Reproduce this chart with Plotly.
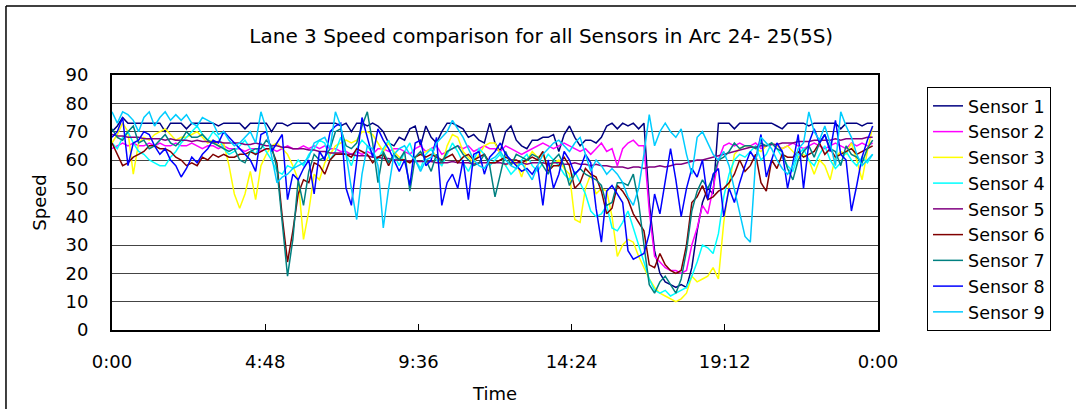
import plotly.graph_objects as go

# Time axis: one reading every 10 minutes over 24 hours (minutes since midnight)
minutes = list(range(0, 1440, 10))
tick_minutes = [0, 288, 576, 864, 1152, 1440]
tick_labels = ["0:00", "4:48", "9:36", "14:24", "19:12", "0:00"]

sensor_names = ["Sensor 1", "Sensor 2", "Sensor 3", "Sensor 4", "Sensor 5",
                "Sensor 6", "Sensor 7", "Sensor 8", "Sensor 9"]
sensor_colors = ["#000080", "#FF00FF", "#FFFF00", "#00FFFF", "#800080",
                 "#800000", "#008080", "#0000FF", "#00CCFF"]

sensor_1 = [70, 72, 75, 73, 73, 73, 73, 73, 73, 73, 70, 73,
            73, 73, 71, 73, 73, 73, 73, 73, 72, 73, 73, 73,
            73, 71, 73, 73, 73, 73, 70, 73, 73, 72, 73, 73,
            73, 73, 71, 73, 73, 73, 73, 72, 73, 70, 73, 73,
            72, 73, 72, 70, 66, 65, 68, 67, 71, 72, 65, 72,
            68, 66, 70, 73, 73, 72, 71, 68, 69, 67, 66, 73,
            66, 63, 70, 72, 67, 65, 64, 67, 67, 68, 68, 69,
            63, 69, 72, 68, 65, 67, 67, 66, 68, 72, 73, 71,
            73, 72, 73, 71, 73, 45, 28, 20, 17, 16, 15, 16,
            15, 22, 35, 45, 50, 48, 73, 73, 73, 71, 73, 73,
            73, 73, 73, 73, 73, 72, 71, 73, 73, 73, 73, 72,
            73, 73, 73, 73, 73, 71, 73, 73, 73, 72, 73, 73]

sensor_2 = [64, 65, 66, 65, 66, 65, 65, 66, 65, 66, 65, 65,
            66, 65, 65, 66, 65, 64, 65, 65, 64, 65, 64, 64,
            64, 63, 64, 64, 63, 64, 64, 63, 64, 65, 64, 64,
            65, 64, 65, 64, 65, 64, 64, 63, 63, 62, 63, 62,
            63, 62, 64, 64, 63, 64, 64, 63, 62, 64, 65, 63,
            64, 65, 62, 63, 64, 65, 64, 65, 63, 64, 65, 64,
            64, 63, 65, 64, 63, 62, 63, 64, 65, 66, 65, 64,
            65, 66, 65, 64, 63, 64, 62, 64, 66, 63, 64, 58,
            64, 66, 67, 65, 65, 42, 26, 24, 22, 21, 21, 20,
            21, 30, 36, 44, 41, 50, 60, 65, 66, 65, 66, 65,
            65, 66, 64, 65, 66, 65, 64, 65, 66, 65, 64, 65,
            66, 65, 64, 65, 66, 65, 64, 66, 65, 66, 65, 66]

sensor_3 = [66, 69, 73, 70, 55, 66, 68, 67, 69, 70, 71, 69,
            67, 68, 68, 69, 70, 68, 66, 67, 65, 66, 58, 48,
            43, 48, 56, 46, 58, 62, 65, 66, 64, 62, 58, 53,
            32, 42, 55, 53, 59, 62, 65, 66, 67, 66, 67, 70,
            70, 69, 66, 63, 66, 63, 61, 60, 59, 61, 62, 63,
            64, 61, 58, 65, 69, 68, 63, 61, 59, 62, 65, 66,
            66, 62, 58, 60, 59, 54, 60, 63, 61, 62, 57, 59,
            60, 57, 55, 39, 38, 50, 55, 48, 50, 49, 40, 26,
            30, 32, 31, 26, 22, 18, 15, 13, 12, 11, 10, 11,
            13, 19, 17, 18, 19, 22, 18, 38, 51, 62, 64, 65,
            65, 64, 63, 65, 66, 65, 64, 65, 63, 61, 62, 60,
            55, 60, 58, 53, 61, 63, 62, 66, 60, 53, 63, 72]

sensor_4 = [66, 64, 68, 70, 66, 63, 62, 60, 59, 58, 58, 61,
            63, 66, 68, 70, 72, 69, 67, 70, 68, 64, 62, 63,
            65, 67, 64, 62, 66, 63, 60, 56, 55, 58, 57, 60,
            58, 62, 64, 67, 66, 60, 63, 68, 62, 58, 64, 67,
            65, 62, 60, 64, 67, 62, 58, 63, 66, 60, 57, 62,
            64, 60, 58, 62, 66, 63, 59, 56, 60, 64, 62, 58,
            60, 62, 58, 55, 57, 60, 62, 58, 56, 59, 62, 60,
            58, 55, 53, 56, 52, 48, 42, 40, 41, 44, 36, 35,
            38, 42, 36, 30, 24, 18, 14, 13, 14, 12, 13, 14,
            15, 19, 24, 30, 29, 27, 34, 47, 55, 60, 62, 61,
            63, 65, 60, 62, 66, 64, 61, 58, 56, 62, 64, 60,
            58, 62, 65, 60, 57, 59, 63, 60, 58, 61, 59, 62]

sensor_5 = [69, 68.5, 68.5, 68, 68, 68, 67.5, 67.5, 67.5, 67.5, 67, 67.5,
            67, 67, 67, 66.5, 67, 66.5, 66.5, 66, 66.5, 66, 66, 66,
            66, 65.5, 65.5, 66, 65.5, 65, 65, 65, 64.5, 64.5, 64, 64,
            64, 63.5, 63.5, 63, 63, 62.5, 62.5, 62.5, 62, 62, 61.5, 61.5,
            61.5, 61, 61, 60.5, 60.5, 60, 60, 60, 59.5, 59.5, 59.5, 59.5,
            59.5, 59, 59, 59, 59.5, 59, 59, 59, 58.5, 59, 59, 59,
            59, 59, 58.5, 59, 59, 59, 58.5, 59, 59, 59, 58.5, 59,
            59, 58.5, 58.5, 59, 58.5, 58.5, 58, 58.5, 58, 58, 57.5, 57.5,
            57.5, 57, 57.5, 57.5, 57, 57.5, 57.5, 58, 57.5, 58, 58.5, 58.5,
            59, 59.5, 60, 60, 60.5, 61, 61.5, 62, 62.5, 63, 63.5, 64,
            64.5, 64.5, 65, 65, 65.5, 65.5, 66, 66, 66, 66.5, 66.5, 66.5,
            67, 67, 67, 67, 67.5, 67, 67.5, 67.5, 67.5, 67.5, 68, 68]

sensor_6 = [66, 62, 58, 59, 61, 62, 63, 65, 65, 64, 64, 63,
            61, 60, 58, 59, 58, 61, 60, 62, 61, 62, 61, 61,
            62, 62, 63, 62, 63, 64, 64, 59, 40, 24, 35, 48,
            53, 52, 59, 58, 55, 60, 62, 62, 62, 61, 64, 63,
            62, 59, 61, 62, 58, 62, 60, 60, 59, 61, 62, 61,
            62, 61, 60, 61, 62, 59, 61, 62, 60, 61, 62, 59,
            59, 60, 61, 60, 60, 59, 60, 61, 60, 63, 56, 58,
            58, 61, 58, 50, 52, 57, 55, 54, 49, 41, 43, 51,
            49, 46, 41, 38, 35, 23, 22, 27, 23, 21, 20, 21,
            30, 45, 47, 51, 46, 47, 49, 50, 52, 55, 60, 56,
            58, 62, 52, 49, 60, 57, 62, 61, 61, 63, 61, 62,
            63, 66, 62, 64, 61, 62, 63, 64, 62, 63, 64, 65]

sensor_7 = [71, 68, 67, 70, 72, 66, 67, 64, 65, 67, 69, 66,
            65, 67, 70, 68, 68, 69, 67, 66, 65, 64, 63, 64,
            60, 59, 63, 64, 64, 67, 65, 57, 38, 19, 32, 53,
            44, 56, 62, 60, 61, 64, 70, 71, 65, 64, 66, 72,
            77, 66, 52, 63, 59, 62, 60, 63, 49, 61, 63, 60,
            56, 62, 59, 63, 64, 65, 62, 60, 58, 59, 62, 58,
            47, 55, 63, 58, 62, 61, 60, 62, 61, 58, 55, 60,
            62, 58, 51, 55, 57, 55, 54, 53, 51, 44, 45, 52,
            52, 51, 55, 45, 30, 16, 13, 17, 19, 16, 13, 18,
            28, 42, 49, 53, 50, 54, 60, 61, 63, 66, 64, 65,
            65, 64, 66, 65, 66, 64, 63, 57, 53, 60, 63, 65,
            61, 66, 69, 64, 63, 58, 65, 62, 61, 59, 64, 67]

sensor_8 = [68, 70, 75, 58, 66, 67, 70, 69, 65, 62, 64, 60,
            58, 54, 57, 61, 59, 62, 64, 67, 66, 70, 68, 66,
            64, 62, 60, 56, 69, 70, 63, 66, 69, 46, 55, 53,
            57, 60, 48, 63, 60, 70, 72, 73, 50, 44, 60, 75,
            68, 61, 71, 67, 64, 60, 56, 60, 51, 66, 67, 58,
            60, 68, 44, 52, 55, 50, 60, 46, 62, 63, 55, 61,
            63, 66, 62, 60, 58, 56, 57, 55, 58, 44, 60, 50,
            55, 63, 60, 55, 57, 62, 59, 43, 31, 49, 51, 48,
            45, 28, 25, 26, 27, 34, 48, 41, 52, 64, 53, 40,
            50, 57, 54, 60, 46, 55, 57, 40, 50, 45, 52, 58,
            63, 60, 69, 54, 60, 66, 63, 50, 59, 69, 50, 66,
            71, 66, 69, 63, 74, 62, 60, 42, 51, 61, 67, 72]

sensor_9 = [77, 73, 77, 76, 74, 70, 75, 77, 72, 75, 77, 74,
            76, 74, 76, 73, 72, 75, 74, 73, 69, 70, 67, 65,
            66, 68, 70, 66, 77, 71, 62, 52, 54, 55, 57, 58,
            59, 61, 66, 67, 68, 64, 77, 72, 62, 50, 39, 55,
            65, 64, 58, 36, 50, 62, 64, 65, 62, 60, 56, 60,
            61, 66, 68, 70, 74, 71, 68, 64, 60, 58, 57, 60,
            61, 63, 60, 58, 57, 59, 56, 53, 58, 62, 64, 66,
            67, 65, 63, 66, 68, 62, 56, 60, 58, 55, 57, 55,
            52, 47, 44, 50, 62, 76, 65, 70, 73, 70, 68, 71,
            62, 55, 68, 70, 66, 62, 60, 63, 58, 50, 42, 33,
            31, 60, 68, 66, 64, 60, 57, 55, 58, 64, 66, 77,
            70, 67, 72, 66, 58, 77, 72, 68, 62, 58, 60, 62]

speeds = [sensor_1, sensor_2, sensor_3, sensor_4, sensor_5,
          sensor_6, sensor_7, sensor_8, sensor_9]

FONT = "DejaVu Sans, Arial, sans-serif"

fig = go.Figure()
for name, color, values in zip(sensor_names, sensor_colors, speeds):
    fig.add_trace(go.Scatter(
        x=minutes, y=values, name=name, mode="lines",
        line=dict(color=color, width=1.5),
    ))

fig.update_layout(
    width=1076, height=409,
    margin=dict(l=112, r=198, t=75, b=79, autoexpand=False),
    paper_bgcolor="white", plot_bgcolor="white",
    font=dict(family=FONT, size=18, color="black"),
    title=dict(
        text="Lane 3 Speed comparison for all Sensors in Arc 24- 25(5S)",
        x=0.503, xanchor="center", xref="container",
        y=0.912, yanchor="middle",
        font=dict(family=FONT, size=20, color="black"),
    ),
    showlegend=True,
    legend=dict(
        x=1.064, xanchor="left", y=0.953, yanchor="top",
        bordercolor="black", borderwidth=1, bgcolor="white",
        font=dict(family=FONT, size=17.5, color="black"),
        tracegroupgap=0,
    ),
    shapes=[
        # outer chart frame (top and left edges visible)
        dict(type="line", xref="paper", yref="paper",
             x0=-0.1384, x1=1.3, y0=1.2706, y1=1.2706,
             line=dict(color="black", width=1.5)),
        dict(type="line", xref="paper", yref="paper",
             x0=-0.1384, x1=-0.1384, y0=-0.35, y1=1.2706,
             line=dict(color="black", width=1.5)),
    ],
)

fig.update_xaxes(
    range=[0, 1440], tickvals=tick_minutes, ticktext=tick_labels,
    showgrid=False, zeroline=False, automargin=False,
    showline=True, linecolor="black", linewidth=2, mirror=True,
    ticks="inside", ticklen=6, tickcolor="black",
    ticklabelstandoff=14,
    title=dict(text="Time", standoff=17, font=dict(family=FONT, size=18)),
)
fig.update_yaxes(
    range=[0, 90], dtick=10,
    showgrid=True, gridcolor="#444444", gridwidth=1.2, zeroline=False,
    automargin=False,
    showline=True, linecolor="black", linewidth=2, mirror=True,
    ticks="", ticklabelstandoff=18,
    title=dict(text="Speed", standoff=14, font=dict(family=FONT, size=18)),
)

fig.write_html("out.html")
